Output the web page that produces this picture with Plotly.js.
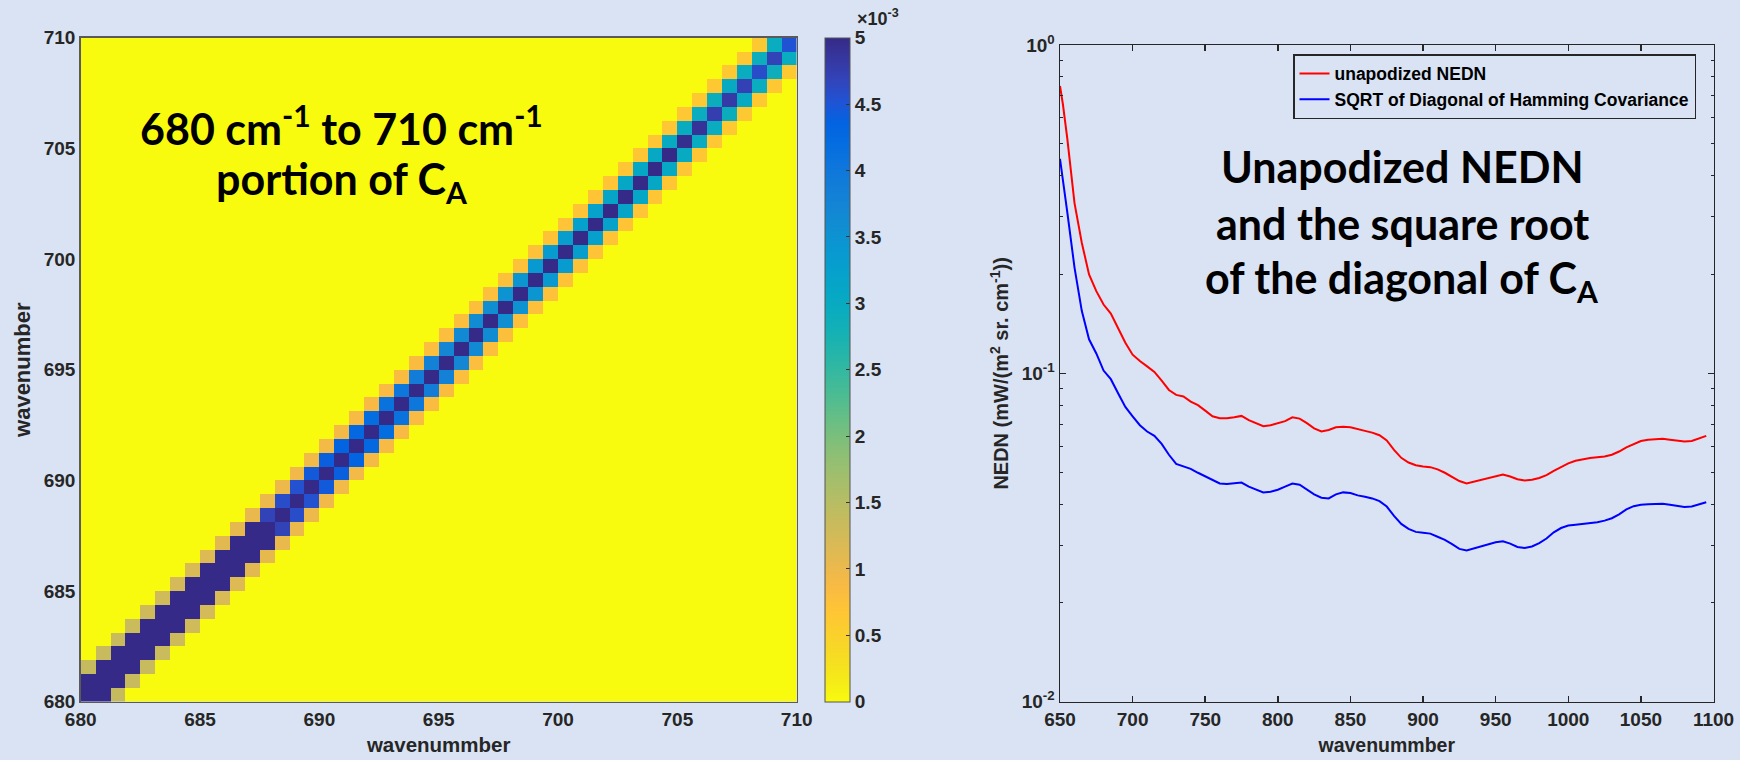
<!DOCTYPE html>
<html><head><meta charset="utf-8">
<script src="https://cdn.plot.ly/plotly-3.0.1.min.js"></script>
<style>html,body{margin:0;padding:0;background:#DAE3F3;}</style>
</head><body><div id="chart" style="width:1740px;height:760px;"></div>
<script>
// ---------- Left panel: 680-710 cm-1 portion of C_A (values in units of 1e-3) ----------
const gridStart = 680;      // cm-1, lower edge of first spectral bin
const gridStep = 0.625;     // cm-1, spectral bin width
// diagonal of C_A, bottom row to top row (48 bins)
const diagVals = [10.6, 10.3, 10.0, 9.8, 9.5, 9.2, 9.0, 8.8, 8.5, 8.3, 8.1, 7.9,
                  7.6, 7.4, 7.2, 7.0, 6.9, 6.8, 6.6, 6.5, 6.3, 6.2, 6.1, 6.0,
                  5.9, 5.85, 5.8, 5.7, 5.6, 5.5, 5.45, 5.4, 5.35, 5.3, 5.2, 5.15,
                  5.1, 5.05, 5.05, 5.0, 4.95, 4.9, 4.75, 4.8, 4.72, 4.6, 4.7, 4.52];
// first off-diagonal (bin k with bin k+1)
const offDiag1 = [6.6, 6.4, 6.25, 6.1, 5.95, 5.8, 5.6, 5.5, 5.35, 5.2, 5.1, 5.02,
                  4.7, 4.6, 4.55, 4.45, 4.4, 4.35, 4.28, 4.2, 4.1, 4.0, 3.9, 3.8,
                  3.72, 3.65, 3.6, 3.55, 3.5, 3.45, 3.4, 3.35, 3.3, 3.25, 3.2, 3.15,
                  3.1, 3.08, 3.05, 3.0, 2.98, 2.95, 2.92, 3.0, 2.95, 2.9, 2.95];
// second off-diagonal (bin k with bin k+2)
const offDiag2 = [1.38, 1.36, 1.35, 1.33, 1.3, 1.27, 1.24, 1.2, 1.15, 1.1,
                  1.06, 1.03, 1.0, 0.98, 0.96, 0.94, 0.92, 0.9, 0.89, 0.87,
                  0.86, 0.84, 0.83, 0.81, 0.8, 0.79, 0.78, 0.77, 0.76, 0.75,
                  0.74, 0.73, 0.72, 0.71, 0.7, 0.69, 0.68, 0.67, 0.66, 0.66,
                  0.65, 0.64, 0.64, 0.63, 0.63, 0.62];
const heatTicks = [680, 685, 690, 695, 700, 705, 710];
const cbarTicks = [0, 0.5, 1, 1.5, 2, 2.5, 3, 3.5, 4, 4.5, 5];
const cbarLabels = ['0', '0.5', '1', '1.5', '2', '2.5', '3', '3.5', '4', '4.5', '5'];

// ---------- Right panel: NEDN curves ----------
const wn = [650, 652, 655, 660, 665, 670, 675, 680, 685, 690, 695, 700, 705, 710, 715, 720, 725, 730, 735, 740,
            745, 750, 755, 760, 765, 770, 775, 780, 785, 790, 795, 800, 805, 810, 815, 820, 825, 830, 835, 840,
            845, 850, 855, 860, 865, 870, 875, 880, 885, 890, 895, 900, 905, 910, 915, 920, 925, 930, 935, 940,
            945, 950, 955, 960, 965, 970, 975, 980, 985, 990, 995, 1000, 1005, 1010, 1015, 1020, 1025, 1030, 1035, 1040,
            1045, 1050, 1055, 1060, 1065, 1070, 1075, 1080, 1085, 1090, 1095];
const nednUnapod = [0.75, 0.66, 0.52, 0.33, 0.25, 0.20, 0.178, 0.162, 0.152, 0.137, 0.124, 0.114, 0.109, 0.105, 0.101, 0.095, 0.089, 0.086, 0.085, 0.082,
            0.080, 0.077, 0.074, 0.073, 0.073, 0.0735, 0.0742, 0.072, 0.0705, 0.069, 0.0695, 0.0705, 0.0715, 0.0735, 0.0728, 0.0705, 0.068, 0.0665, 0.0672, 0.0685,
            0.0688, 0.0685, 0.0675, 0.0668, 0.066, 0.0648, 0.0625, 0.0585, 0.0553, 0.0535, 0.0525, 0.052, 0.0518, 0.051, 0.0498, 0.0485, 0.047, 0.0462, 0.0468, 0.0475,
            0.048, 0.0488, 0.0492, 0.0485, 0.0476, 0.0472, 0.0474, 0.048, 0.049, 0.0505, 0.0518, 0.0532, 0.0542, 0.0548, 0.0552, 0.0555, 0.0558, 0.0565, 0.0578, 0.0595,
            0.061, 0.0622, 0.0628, 0.063, 0.0632, 0.0628, 0.0625, 0.062, 0.0622, 0.0632, 0.0645];
const sqrtDiagHamming = [0.45, 0.39, 0.31, 0.21, 0.155, 0.127, 0.115, 0.102, 0.096, 0.087, 0.079, 0.074, 0.0695, 0.0665, 0.0645, 0.061, 0.0565, 0.053, 0.0522, 0.0512,
            0.0498, 0.0485, 0.0472, 0.0462, 0.046, 0.0462, 0.0465, 0.0452, 0.0442, 0.0434, 0.0436, 0.0442, 0.0452, 0.0462, 0.0458, 0.0443, 0.0428, 0.0418, 0.0416, 0.0428,
            0.0434, 0.0432, 0.0425, 0.0421, 0.0416, 0.0408, 0.0393, 0.0368, 0.0348, 0.0336, 0.0329, 0.0327, 0.0325, 0.0318, 0.0311, 0.0302, 0.0292, 0.0289, 0.0293, 0.0298,
            0.0302, 0.0306, 0.0308, 0.0303, 0.0296, 0.0294, 0.0297, 0.0304, 0.0314, 0.0328, 0.0338, 0.0344, 0.0346, 0.0348, 0.035, 0.0352, 0.0356, 0.0362, 0.0372, 0.0385,
            0.0394, 0.0398, 0.0399, 0.04, 0.0401, 0.0398, 0.0395, 0.0392, 0.0393, 0.0398, 0.0405];
const nednTicks = [650, 700, 750, 800, 850, 900, 950, 1000, 1050, 1100];
const logTickVals = [0.01, 0.1, 1];
const logTickText = ['10<sup>-2</sup>', '10<sup>-1</sup>', '10<sup>0</sup>'];
const logMinorVals = [0.02, 0.03, 0.04, 0.05, 0.06, 0.07, 0.08, 0.09, 0.2, 0.3, 0.4, 0.5, 0.6, 0.7, 0.8, 0.9];

// ---------- styling ----------
// reversed parula palette (0 -> yellow, max -> dark blue)
const parulaStops = ['#F9FB0E','#F6F313','#F5E41D','#F7D826','#FCCD2E','#FFC337','#F8BA44','#E9B94E','#D9BA56',
  '#C8BB5D','#B7BD64','#A5BE6B','#92BF73','#7CBF7B','#65BE86','#4DBC92','#38B99E','#25B5A9','#15B1B4','#0AACBE',
  '#06A7C6','#06A0CD','#0998D1','#108ED2','#1485D4','#127DD8','#0D75DC','#046DE0','#0363E1','#2053D4','#3244BA','#3637A0','#352A87'];
const parulaPos = [0, 1/63, 3/63, 5/63, 7/63, 9/63, 11/63, 13/63, 15/63, 17/63, 19/63, 21/63, 23/63, 25/63, 27/63, 29/63,
  31/63, 33/63, 35/63, 37/63, 39/63, 41/63, 43/63, 45/63, 47/63, 49/63, 51/63, 53/63, 55/63, 57/63, 59/63, 61/63, 1];
const colorscale = parulaStops.map((c, i) => [parulaPos[i], c]);

const n = diagVals.length;
const z = [];
for (let r = 0; r < n; r++) {
  const row = [];
  for (let c = 0; c < n; c++) {
    const d = Math.abs(r - c), k = Math.min(r, c);
    row.push(d === 0 ? diagVals[r] : d === 1 ? offDiag1[k] : d === 2 ? offDiag2[k] : 0);
  }
  z.push(row);
}

const W = 1740, H = 760;
const FAM = 'Liberation Sans, Arial, sans-serif';
const axFont = {family: FAM, size: 19, color: '#262626', weight: 'bold'};
const bigFont = {family: 'Lato, sans-serif', size: 43, color: '#000000', weight: 'bold'};

const traces = [
  {type: 'heatmap', z: z, x0: gridStart + gridStep / 2, dx: gridStep, y0: gridStart + gridStep / 2, dy: gridStep,
   zmin: 0, zmax: 5, colorscale: colorscale, xaxis: 'x', yaxis: 'y', hoverinfo: 'skip', showscale: true,
   colorbar: {x: 825 / W, xanchor: 'left', xpad: 0, ypad: 0, y: 58.3 / H, yanchor: 'bottom', len: 664 / H, lenmode: 'fraction',
     thickness: 25, thicknessmode: 'pixels', outlinewidth: 1, outlinecolor: '#555555',
     tickmode: 'array', tickvals: cbarTicks, ticktext: cbarLabels, ticks: 'inside', ticklen: 4, tickcolor: '#333333',
     tickfont: axFont}},
  {type: 'scatter', mode: 'lines', x: wn, y: nednUnapod, name: 'unapodized NEDN', xaxis: 'x2', yaxis: 'y2',
   line: {color: '#FF0000', width: 2}},
  {type: 'scatter', mode: 'lines', x: wn, y: sqrtDiagHamming, name: 'SQRT of Diagonal of Hamming Covariance', xaxis: 'x2', yaxis: 'y2',
   line: {color: '#0000FF', width: 2}}
];

const layout = {
  width: W, height: H, autosize: false,
  margin: {l: 0, r: 0, t: 0, b: 0},
  paper_bgcolor: '#DAE3F3', plot_bgcolor: '#DAE3F3',
  showlegend: true,
  xaxis: {domain: [80.7 / W, 796.7 / W], range: [680, 710], tickmode: 'array', tickvals: heatTicks, ticks: '',
    showline: true, mirror: true, linecolor: '#5a5a5a', linewidth: 1.5, showgrid: false, zeroline: false,
    tickfont: axFont, anchor: 'y', title: {text: 'wavenummber', font: Object.assign({}, axFont, {size: 20.5}), standoff: 8}},
  yaxis: {domain: [58.3 / H, 722.3 / H], range: [680, 710], tickmode: 'array', tickvals: heatTicks, ticks: '',
    showline: true, mirror: true, linecolor: '#5a5a5a', linewidth: 1.5, showgrid: false, zeroline: false,
    tickfont: axFont, anchor: 'x', title: {text: 'wavenumber', font: Object.assign({}, axFont, {size: 22}), standoff: 7}},
  xaxis2: {domain: [1060 / W, 1713.5 / W], range: [650, 1100], tickmode: 'array', tickvals: nednTicks, ticks: 'inside', ticklen: 6,
    tickcolor: '#262626', tickwidth: 1.5, showline: true, mirror: 'ticks', linecolor: '#262626', linewidth: 1.5,
    showgrid: false, zeroline: false, tickfont: axFont, anchor: 'y2',
    title: {text: 'wavenummber', font: Object.assign({}, axFont, {size: 19.5}), standoff: 9}},
  yaxis2: {type: 'log', domain: [58.3 / H, 715 / H], range: [-2, 0], tickmode: 'array', tickvals: logTickVals, ticktext: logTickText,
    ticks: 'inside', ticklen: 6, tickcolor: '#262626', tickwidth: 1.5, showline: true, mirror: 'ticks', linecolor: '#262626', linewidth: 1.5,
    minor: {tickmode: 'array', tickvals: logMinorVals, ticks: 'inside', ticklen: 3, tickcolor: '#262626', tickwidth: 1},
    showgrid: false, zeroline: false, tickfont: axFont, anchor: 'x2',
    title: {text: 'NEDN (mW/(m<sup>2</sup> sr. cm<sup>-1</sup>))', font: Object.assign({}, axFont, {size: 20}), standoff: 7}},
  legend: {x: 1293 / W, y: 1 - 54 / H, xanchor: 'left', yanchor: 'top', bgcolor: 'rgba(0,0,0,0)',
    bordercolor: '#262626', borderwidth: 1.5, font: {family: FAM, size: 17.5, color: '#000000', weight: 'bold'},
    tracegroupgap: 0, itemwidth: 30},
  annotations: [
    {xref: 'paper', yref: 'paper', x: 855 / W, y: 1 - 17 / H, xanchor: 'left', yanchor: 'middle', showarrow: false,
     text: '×10<sup>-3</sup>', font: {family: FAM, size: 18, color: '#262626', weight: 'bold'}},
    {xref: 'paper', yref: 'paper', x: 341 / W, y: 1 - 126 / H, xanchor: 'center', yanchor: 'middle', showarrow: false,
     text: '680 cm<sup>-1</sup> to 710 cm<sup>-1</sup>', font: bigFont},
    {xref: 'paper', yref: 'paper', x: 342 / W, y: 1 - 181 / H, xanchor: 'center', yanchor: 'middle', showarrow: false,
     text: 'portion of C<sub>A</sub>', font: bigFont},
    {xref: 'paper', yref: 'paper', x: 1402 / W, y: 1 - 166 / H, xanchor: 'center', yanchor: 'middle', showarrow: false,
     text: 'Unapodized NEDN', font: bigFont},
    {xref: 'paper', yref: 'paper', x: 1402 / W, y: 1 - 223 / H, xanchor: 'center', yanchor: 'middle', showarrow: false,
     text: 'and the square root', font: bigFont},
    {xref: 'paper', yref: 'paper', x: 1402 / W, y: 1 - 280 / H, xanchor: 'center', yanchor: 'middle', showarrow: false,
     text: 'of the diagonal of C<sub>A</sub>', font: bigFont}
  ]
};

Plotly.newPlot('chart', traces, layout, {displayModeBar: false, staticPlot: true});
</script>
</body></html>
